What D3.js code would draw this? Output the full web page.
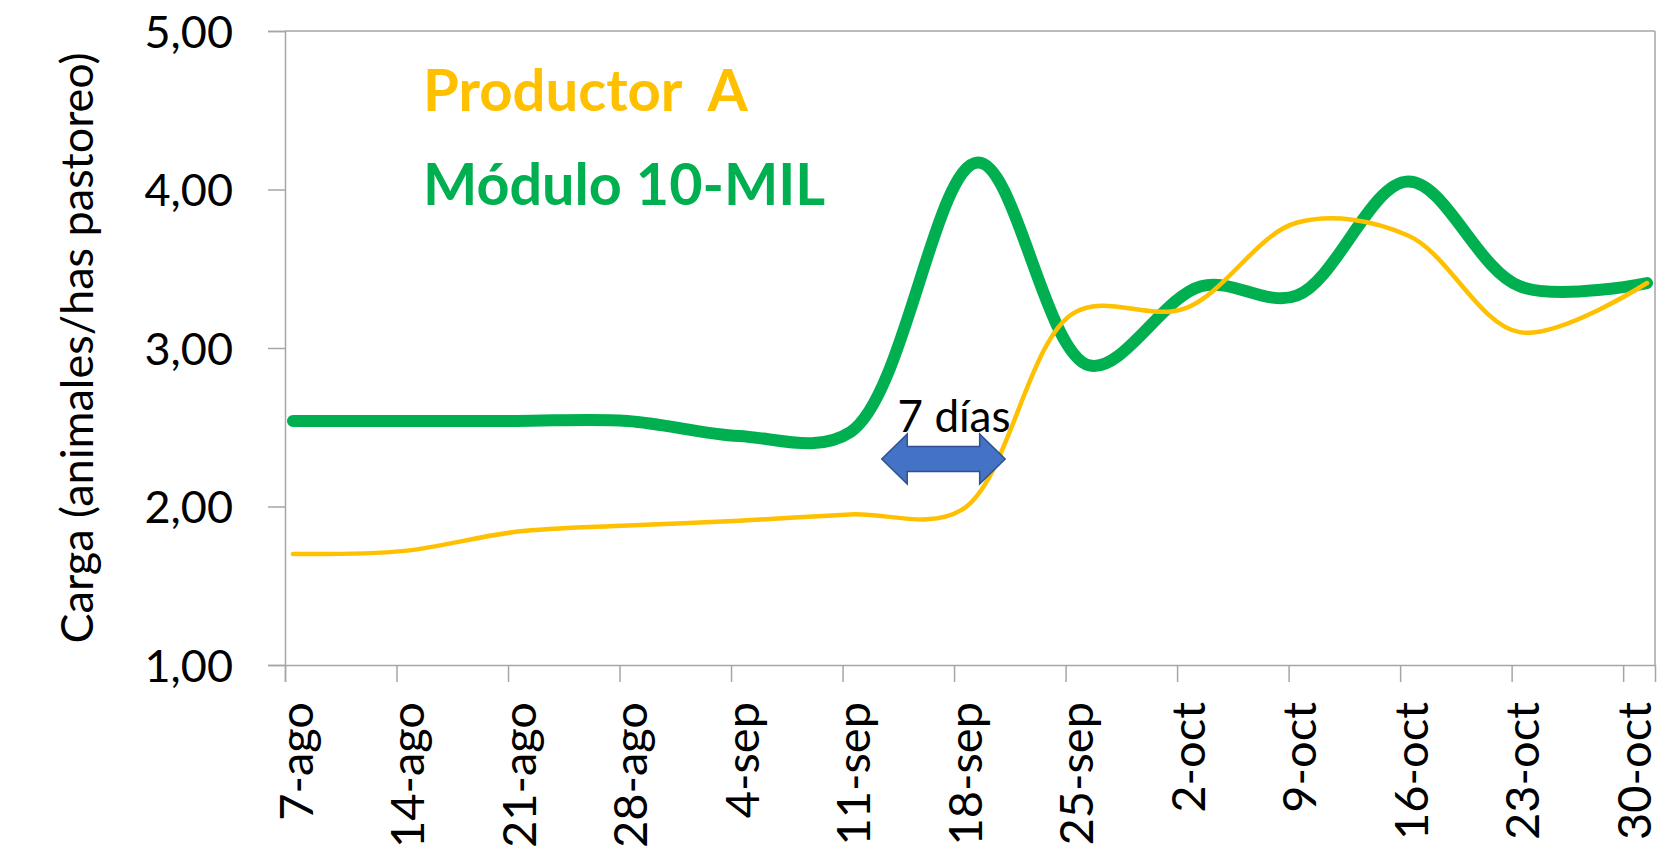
<!DOCTYPE html>
<html>
<head>
<meta charset="utf-8">
<script src="https://cdn.jsdelivr.net/npm/d3@7"></script>
<style>
  html, body { margin: 0; padding: 0; background: #ffffff; }
  svg text { font-family: Lato, "Open Sans", sans-serif; }
</style>
</head>
<body>
<div id="chart"></div>
<script>
// Carga animal: Productor A vs Módulo 10-MIL
const tickDates = ["2019-08-07", "2019-08-14", "2019-08-21", "2019-08-28", "2019-09-04",
    "2019-09-11", "2019-09-18", "2019-09-25", "2019-10-02", "2019-10-09",
    "2019-10-16", "2019-10-23", "2019-10-30"];
const monthNames = ["ene", "feb", "mar", "abr", "may", "jun", "jul", "ago", "sep", "oct", "nov", "dic"];

const productorDates = ["2019-08-07", "2019-08-14", "2019-08-21", "2019-08-28", "2019-09-04",
    "2019-09-11", "2019-09-18", "2019-09-25", "2019-10-02", "2019-10-09",
    "2019-10-16", "2019-10-23", "2019-10-31"];
const productorValues = [1.70, 1.72, 1.84, 1.88, 1.91, 1.95, 1.98, 3.22, 3.25, 3.79, 3.71, 3.10, 3.41];

const moduloDates = ["2019-08-07", "2019-08-14", "2019-08-21", "2019-08-28", "2019-09-04",
    "2019-09-11", "2019-09-19", "2019-09-26", "2019-10-03", "2019-10-09",
    "2019-10-16", "2019-10-23", "2019-10-31"];
const moduloValues = [2.54, 2.54, 2.54, 2.54, 2.445, 2.47, 4.17, 2.89, 3.39, 3.33, 4.05, 3.39, 3.41];

const yTicks = [1, 2, 3, 4, 5];

// "7 días" annotation (arrow between two dates at a given level)
const arrowStart = "2019-09-13T11:00:00Z";
const arrowEnd = "2019-09-21T05:00:00Z";
const arrowLevel = 2.30;
const arrowLabel = "7 días";
const arrowLabelDate = "2019-09-18T00:00:00Z";
const arrowLabelLevel = 2.47;

const width = 1664, height = 851;
const margin = { top: 31, right: 9, bottom: 186, left: 285 };

const parse = d3.utcParse("%Y-%m-%d");
const halfDay = d => d3.utcHour.offset(d, 12); // Excel date axis: points centred in the day

const svg = d3.select('#chart').append('svg')
    .attr('width', width)
    .attr('height', height);

const x = d3.scaleUtc()
    .domain([parse("2019-08-07"), parse("2019-11-01")])
    .range([margin.left, width - margin.right]);

const y = d3.scaleLinear()
    .domain([1, 5])
    .range([height - margin.bottom, margin.top]);

const axisColor = '#a6a6a6';

// plot border (top and right)
svg.append('line')
    .attr('x1', margin.left).attr('x2', width - margin.right)
    .attr('y1', y(5)).attr('y2', y(5))
    .attr('stroke', axisColor).attr('stroke-width', 1.5);
svg.append('line')
    .attr('x1', width - margin.right).attr('x2', width - margin.right)
    .attr('y1', y(5)).attr('y2', y(1))
    .attr('stroke', axisColor).attr('stroke-width', 1.5);

// y axis
const yAxis = svg.append('g')
    .attr('transform', `translate(${margin.left},0)`)
    .call(d3.axisLeft(y)
        .tickValues(yTicks)
        .tickSize(17)
        .tickPadding(35)
        .tickFormat(d => d3.format(".2f")(d).replace(".", ",")));
yAxis.select('.domain').attr('stroke', axisColor).attr('stroke-width', 1.5);
yAxis.selectAll('.tick line').attr('stroke', axisColor).attr('stroke-width', 1.5);
yAxis.selectAll('.tick text')
    .style('font-size', '45px')
    .attr('fill', '#000')
    .attr('dy', '0.36em');

// x axis
const xAxis = svg.append('g')
    .attr('transform', `translate(0,${y(1)})`)
    .call(d3.axisBottom(x)
        .tickValues(tickDates.map(parse))
        .tickSize(17)
        .tickFormat(d => `${d.getUTCDate()}-${monthNames[d.getUTCMonth()]}`));
xAxis.select('.domain').attr('stroke', axisColor).attr('stroke-width', 1.5);
xAxis.selectAll('.tick line').attr('stroke', axisColor).attr('stroke-width', 1.5);
xAxis.selectAll('.tick text')
    .style('font-size', '47px')
    .attr('fill', '#000')
    .attr('transform', 'rotate(-90)')
    .attr('x', -37)
    .attr('y', 27)
    .attr('dy', 0)
    .attr('text-anchor', 'end');

// y axis title
svg.append('text')
    .attr('transform', `translate(93,${(y(1) + y(5)) / 2}) rotate(-90)`)
    .attr('text-anchor', 'middle')
    .style('font-size', '45px')
    .text('Carga (animales/has pastoreo)');

// series
const line = d3.line()
    .x(d => x(halfDay(d.date)))
    .y(d => y(d.value))
    .curve(d3.curveCatmullRom.alpha(0.5));

const modulo = moduloDates.map((d, i) => ({ date: parse(d), value: moduloValues[i] }));
const productor = productorDates.map((d, i) => ({ date: parse(d), value: productorValues[i] }));

svg.append('path')
    .datum(modulo)
    .attr('class', 'line modulo')
    .attr('d', line)
    .attr('fill', 'none')
    .attr('stroke', '#00b050')
    .attr('stroke-width', 12)
    .attr('stroke-linecap', 'round')
    .attr('stroke-linejoin', 'round');

svg.append('path')
    .datum(productor)
    .attr('class', 'line productor')
    .attr('d', line)
    .attr('fill', 'none')
    .attr('stroke', '#ffc000')
    .attr('stroke-width', 4.5)
    .attr('stroke-linecap', 'round')
    .attr('stroke-linejoin', 'round');

// series labels
svg.append('text')
    .attr('x', 423).attr('y', 111)
    .style('font-size', '58px')
    .style('font-weight', 'bold')
    .style('white-space', 'pre')
    .attr('fill', '#ffc000')
    .text('Productor  A');

svg.append('text')
    .attr('x', 423).attr('y', 205)
    .style('font-size', '57.5px')
    .style('font-weight', 'bold')
    .attr('fill', '#00b050')
    .text('Módulo 10-MIL');

// double arrow annotation
const ax0 = x(d3.isoParse(arrowStart));
const ax1 = x(d3.isoParse(arrowEnd));
const ay = y(arrowLevel);
const headLen = 25.5, headHalf = 25, shaftHalf = 12.5;
const arrowPath = d3.path();
arrowPath.moveTo(ax0, ay);
arrowPath.lineTo(ax0 + headLen, ay - headHalf);
arrowPath.lineTo(ax0 + headLen, ay - shaftHalf);
arrowPath.lineTo(ax1 - headLen, ay - shaftHalf);
arrowPath.lineTo(ax1 - headLen, ay - headHalf);
arrowPath.lineTo(ax1, ay);
arrowPath.lineTo(ax1 - headLen, ay + headHalf);
arrowPath.lineTo(ax1 - headLen, ay + shaftHalf);
arrowPath.lineTo(ax0 + headLen, ay + shaftHalf);
arrowPath.lineTo(ax0 + headLen, ay + headHalf);
arrowPath.closePath();

svg.append('path')
    .attr('d', arrowPath.toString())
    .attr('fill', '#4472c4')
    .attr('stroke', '#2f528f')
    .attr('stroke-width', 1.5);

svg.append('text')
    .attr('x', x(d3.isoParse(arrowLabelDate)))
    .attr('y', y(arrowLabelLevel))
    .attr('text-anchor', 'middle')
    .style('font-size', '44px')
    .text(arrowLabel);
</script>
</body>
</html>
